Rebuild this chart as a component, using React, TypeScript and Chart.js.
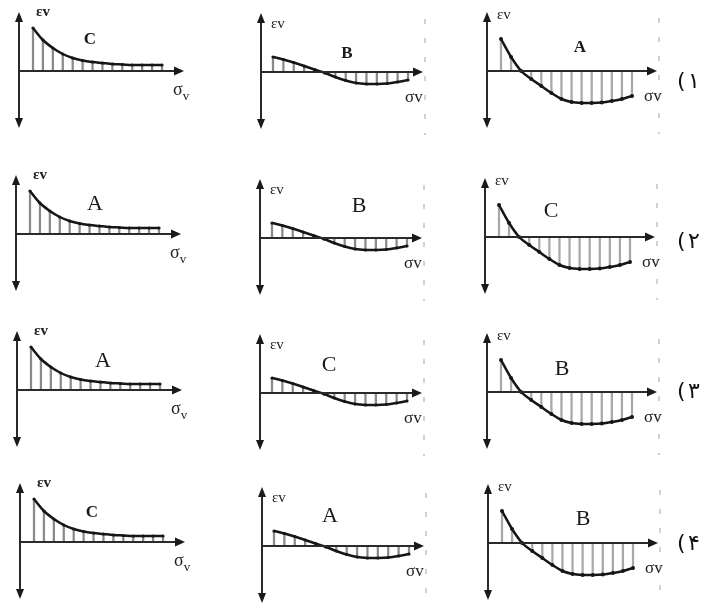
import React, { useEffect, useRef } from "react";
import { Chart, registerables } from "chart.js";

Chart.register(...registerables);

// ---- data (in axis units) ----
const SIGMA_V = [1, 2, 3, 4, 5, 6, 7, 8, 9, 10, 11, 12, 13, 14];
const EPS_DECAY = [43, 31, 23, 17, 13, 10.5, 9, 8, 7, 6.5, 6, 6, 6, 6];
const EPS_MILD = [15, 12.5, 9.5, 6, 2.5, -1, -5, -8.5, -11, -12, -12, -11.5, -10, -8];
const EPS_DEEP = [32, 14, 0, -8, -15, -22, -28, -31, -32, -32, -31.5, -30, -28, -25];
const CURVES = [EPS_DECAY, EPS_MILD, EPS_DEEP];
const LETTERS = [
  ["C", "B", "A"],
  ["A", "B", "C"],
  ["A", "C", "B"],
  ["C", "A", "B"],
];
const OPTION_DIGITS = ["۱", "۲", "۳", "۴"];
const Y_MIN = -57;
const Y_MAX = 59;

// ---- layout ----
const ORIGINS = [
  [[19, 71], [261, 72], [487, 71]],
  [[16, 234], [260, 238], [485, 237]],
  [[17, 390], [260, 393], [487, 392]],
  [[20, 542], [262, 546], [488, 543]],
];
const AXIS_LEN = [165, 162, 170];
const FIRST_OFF = [14, 12, 14];
const LAST_OFF = [143, 147, 145];
const DASH_OFF = [0, 164, 172];
const PAD = 10;
const PAD_V = 6;
const LETTER_POS = [
  [[71, -32], [86, -19], [93, -24]],
  [[79, -31], [99, -33], [66, -27]],
  [[86, -30], [69, -29], [75, -24]],
  [[72, -30], [68, -31], [95, -25]],
];
const LETTER_BOLD = [
  [true, true, true],
  [false, false, false],
  [false, false, false],
  [true, false, false],
];
const OPTION_Y = [80, 240, 390, 542];

const arrowAxes = {
  id: "arrowAxes",
  afterDatasetsDraw(chart: any, _args: any, opts: any) {
    const { ctx, scales } = chart;
    const x = scales.x;
    const y = scales.y;
    const left = x.left;
    const right = x.right;
    const y0 = y.getPixelForValue(0);
    ctx.save();
    if (opts.dashX) {
      ctx.strokeStyle = "#b5b5b5";
      ctx.lineWidth = 1.2;
      ctx.setLineDash([5, 14]);
      ctx.beginPath();
      ctx.moveTo(left + opts.dashX, y.top + 6);
      ctx.lineTo(left + opts.dashX, y.bottom + 6);
      ctx.stroke();
      ctx.setLineDash([]);
    }
    ctx.strokeStyle = "#2a2a2a";
    ctx.fillStyle = "#1a1a1a";
    ctx.lineWidth = 2;
    ctx.beginPath();
    ctx.moveTo(left, y.top + 6);
    ctx.lineTo(left, y.bottom - 6);
    ctx.stroke();
    ctx.beginPath();
    ctx.moveTo(left, y0);
    ctx.lineTo(right - 6, y0);
    ctx.stroke();
    const tri = (ax: number, ay: number, bx: number, by: number, cx: number, cy: number) => {
      ctx.beginPath();
      ctx.moveTo(ax, ay);
      ctx.lineTo(bx, by);
      ctx.lineTo(cx, cy);
      ctx.closePath();
      ctx.fill();
    };
    tri(left, y.top, left - 4, y.top + 10, left + 4, y.top + 10);
    tri(left, y.bottom, left - 4, y.bottom - 10, left + 4, y.bottom - 10);
    tri(right, y0, right - 10, y0 - 4.5, right - 10, y0 + 4.5);
    ctx.restore();
  },
};

function Panel({ row, col }: { row: number; col: number }) {
  const ref = useRef<HTMLCanvasElement>(null);
  const [ox, oy] = ORIGINS[row][col];
  const L = AXIS_LEN[col];
  const W = L + 2 * PAD;
  const H = Y_MAX - Y_MIN + 2 * PAD_V;
  useEffect(() => {
    const values = CURVES[col];
    const d = (LAST_OFF[col] - FIRST_OFF[col]) / (SIGMA_V.length - 1);
    const xmin = SIGMA_V[0] - FIRST_OFF[col] / d;
    const xmax = xmin + L / d;
    const pts = SIGMA_V.map((s, i) => ({ x: s, y: values[i] }));
    const chart = new Chart(ref.current as HTMLCanvasElement, {
      type: "bar",
      data: {
        datasets: [
          {
            type: "line",
            data: pts,
            borderColor: "#161616",
            borderWidth: 2.5,
            tension: 0.35,
            pointRadius: col === 2 ? 2 : 1.6,
            pointBackgroundColor: "#161616",
            pointBorderWidth: 0,
            order: 1,
          } as any,
          {
            type: "bar",
            data: pts,
            backgroundColor: col === 2 ? "#a8a8a8" : "#8a8a8a",
            barThickness: 1.6,
            order: 2,
          } as any,
        ],
      },
      options: {
        responsive: false,
        animation: false,
        events: [],
        layout: { padding: { left: PAD, right: PAD, top: PAD_V, bottom: PAD_V } },
        plugins: {
          legend: { display: false },
          tooltip: { enabled: false },
          arrowAxes: { dashX: DASH_OFF[col] },
        } as any,
        scales: {
          x: { type: "linear", min: xmin, max: xmax, display: false, offset: false } as any,
          y: { min: Y_MIN, max: Y_MAX, display: false },
        },
      },
      plugins: [arrowAxes],
    });
    return () => chart.destroy();
  }, [row, col]);

  const [lx, ly] = LETTER_POS[row][col];
  const bold = LETTER_BOLD[row][col];
  const serif = "'Liberation Serif', 'DejaVu Serif', serif";
  return (
    <>
      <canvas
        ref={ref}
        width={W}
        height={H}
        style={{ position: "absolute", left: ox - PAD, top: oy - Y_MAX - PAD_V, width: W, height: H }}
      />
      <span
        style={{
          position: "absolute",
          left: col === 0 ? ox + 17 : ox + 10,
          top: col === 0 ? oy - 68 : col === 1 ? oy - 57 : oy - 65,
          font: `${col === 0 ? "bold " : ""}15px ${serif}`,
          color: "#222",
          whiteSpace: "nowrap",
        }}
      >
        εv
      </span>
      <span
        style={{
          position: "absolute",
          left: ox + lx,
          top: oy + ly,
          transform: "translate(-50%, -50%)",
          font: bold ? `bold 17px ${serif}` : `22px ${serif}`,
          color: "#1a1a1a",
        }}
      >
        {LETTERS[row][col]}
      </span>
      {col === 0 ? (
        <span
          style={{
            position: "absolute",
            left: ox + 154,
            top: oy + 8,
            font: `18px ${serif}`,
            color: "#222",
            whiteSpace: "nowrap",
          }}
        >
          σ<sub style={{ fontSize: 13 }}>v</sub>
        </span>
      ) : (
        <span
          style={{
            position: "absolute",
            left: ox + (col === 1 ? 144 : 157),
            top: oy + 15,
            font: `17px ${serif}`,
            color: "#222",
            whiteSpace: "nowrap",
          }}
        >
          σv
        </span>
      )}
    </>
  );
}

export default function App() {
  const rows = [0, 1, 2, 3];
  const cols = [0, 1, 2];
  return (
    <div
      style={{
        position: "absolute",
        left: 0,
        top: 0,
        width: 708,
        height: 603,
        background: "#ffffff",
        overflow: "hidden",
      }}
    >
      {rows.map((r) => cols.map((c) => <Panel key={`${r}-${c}`} row={r} col={c} />))}
      {rows.map((r) => (
        <React.Fragment key={`o${r}`}>
          <span
            style={{
              position: "absolute",
              left: 677,
              top: OPTION_Y[r],
              transform: "translateY(-50%)",
              font: "22px 'DejaVu Sans', sans-serif",
              color: "#111",
            }}
          >
            (
          </span>
          <span
            style={{
              position: "absolute",
              left: 688,
              top: OPTION_Y[r],
              transform: "translateY(-50%)",
              font: "22px 'DejaVu Sans', sans-serif",
              color: "#111",
            }}
          >
            {OPTION_DIGITS[r]}
          </span>
        </React.Fragment>
      ))}
    </div>
  );
}
